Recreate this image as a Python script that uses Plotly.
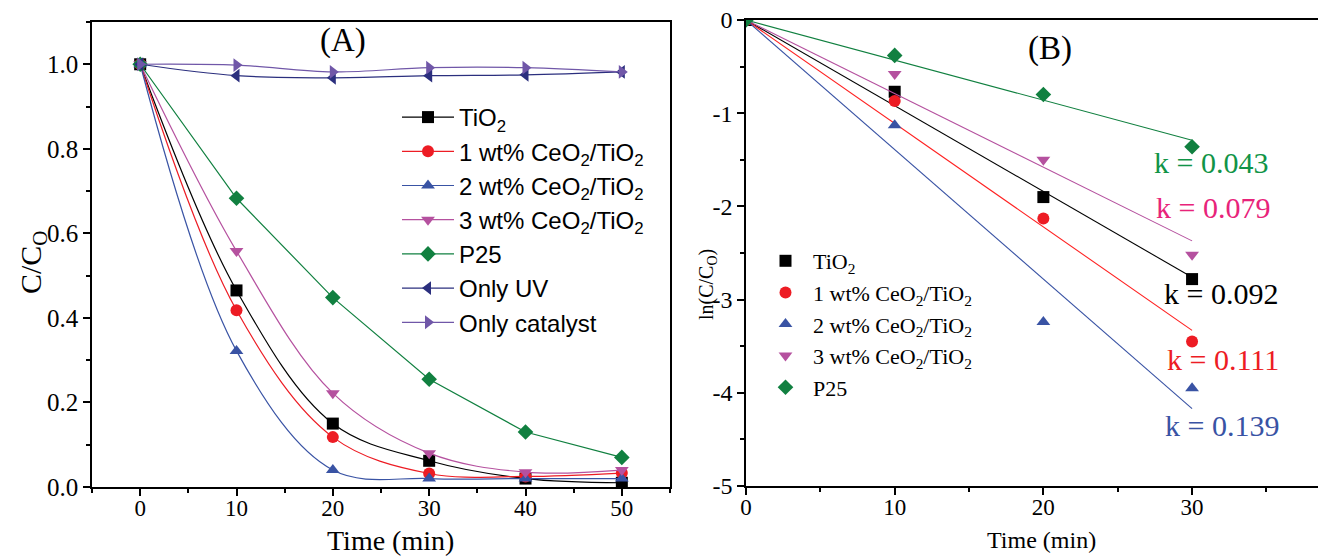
import plotly.graph_objects as go

# ---------------- data ----------------
time_a = [0, 10, 20, 30, 40, 50]
names_a = ["TiO<sub>2</sub>", "1 wt% CeO<sub>2</sub>/TiO<sub>2</sub>", "2 wt% CeO<sub>2</sub>/TiO<sub>2</sub>",
           "3 wt% CeO<sub>2</sub>/TiO<sub>2</sub>", "P25", "Only UV", "Only catalyst"]
tio2_a = [1.0, 0.465, 0.150, 0.062, 0.020, 0.010]
ce1_a = [1.0, 0.418, 0.118, 0.032, 0.025, 0.033]
ce2_a = [1.0, 0.322, 0.040, 0.020, 0.020, 0.020]
ce3_a = [1.0, 0.558, 0.222, 0.080, 0.035, 0.040]
p25_a = [1.0, 0.683, 0.448, 0.255, 0.130, 0.070]
uv_a = [1.0, 0.973, 0.968, 0.973, 0.975, 0.982]
cat_a = [1.0, 0.998, 0.982, 0.992, 0.992, 0.982]

time_b = [0, 10, 20, 30]
tio2_b = [0, -0.77, -1.90, -2.78]
ce1_b = [0, -0.87, -2.13, -3.45]
ce2_b = [0, -1.13, -3.24, -3.95]
ce3_b = [0, -0.58, -1.50, -2.52]
p25_b = [0, -0.38, -0.80, -1.36]
k_vals = [0.092, 0.111, 0.139, 0.079, 0.043]
k_labels = ["k = 0.092", "k = 0.111", "k = 0.139", "k = 0.079", "k = 0.043"]
k_label_x = [31.95, 32.08, 32.0, 31.4, 31.27]
k_label_y = [-2.93, -3.648, -4.346, -2.017, -1.534]
k_label_colors = ["#000000", "#ed1c24", "#3953a4", "#e8237a", "#119447"]

x_ticks_a = [0, 10, 20, 30, 40, 50]
y_ticks_a = [0.0, 0.2, 0.4, 0.6, 0.8, 1.0]
y_ticklabels_a = ["0.0", "0.2", "0.4", "0.6", "0.8", "1.0"]
x_ticks_b = [0, 10, 20, 30]
y_ticks_b = [0, -1, -2, -3, -4, -5]
y_ticklabels_b = ["0", "-1", "-2", "-3", "-4", "-5"]

colors = ["#000000", "#ed1c24", "#3953a4", "#b5519f", "#118040", "#2b2f7e", "#7057a8"]
symbols = ["square", "circle", "triangle-up", "triangle-down", "diamond", "triangle-left", "triangle-right"]

SERIF = "Liberation Serif, Times New Roman, serif"
SANS = "Liberation Sans, Arial, sans-serif"

fig = go.Figure()

series_a = [tio2_a, ce1_a, ce2_a, ce3_a, p25_a, uv_a, cat_a]
for i, ys in enumerate(series_a):
    shape = "linear" if i == 4 else "spline"
    fig.add_trace(go.Scatter(
        x=time_a, y=ys, name=names_a[i], mode="lines+markers",
        line=dict(color=colors[i], width=1.2, shape=shape, smoothing=1.0),
        marker=dict(symbol=symbols[i], size=12, color=colors[i]),
        xaxis="x", yaxis="y", legend="legend"))

series_b = [tio2_b, ce1_b, ce2_b, ce3_b, p25_b]
for i, ys in enumerate(series_b):
    fig.add_trace(go.Scatter(
        x=time_b, y=ys, name=names_a[i], mode="markers",
        marker=dict(symbol=symbols[i], size=12, color=colors[i]),
        xaxis="x2", yaxis="y2", legend="legend2"))
    fit_x = [time_b[0], time_b[-1]]
    fit_y = [-k_vals[i] * t for t in fit_x]
    line_col = colors[i] if i != 1 else "#ff2020"
    fig.add_trace(go.Scatter(
        x=fit_x, y=fit_y, mode="lines", showlegend=False,
        line=dict(color=line_col, width=1.1),
        xaxis="x2", yaxis="y2", hoverinfo="skip"))

for i, lab in enumerate(k_labels):
    fig.add_annotation(x=k_label_x[i], y=k_label_y[i], xref="x2", yref="y2",
                       text=lab, showarrow=False, xanchor="center", yanchor="middle",
                       font=dict(family=SERIF, size=30, color=k_label_colors[i]))


def paper_text(px, py, text, size, angle=0):
    fig.add_annotation(x=px / 1318, y=1 - py / 556, xref="paper", yref="paper", text=text,
                       showarrow=False, xanchor="center", yanchor="middle", textangle=angle,
                       borderpad=0,
                       font=dict(family=SERIF, size=size, color="black"))


paper_text(343, 41, "(A)", 33)
paper_text(1050, 48, "(B)", 33)
paper_text(390, 540, "Time (min)", 28)
paper_text(1041, 540, "Time (min)", 24)
paper_text(33, 262, "C/C<sub>O</sub>", 30, -90)
paper_text(707, 285, "ln(C/C<sub>O</sub>)", 20, -90)

common_axis = dict(showgrid=False, zeroline=False, showline=True, linecolor="black",
                   linewidth=1.5, ticks="outside", tickcolor="black", tickwidth=1.5, ticklen=7,
                   automargin=False)

fig.update_layout(
    width=1318, height=556,
    margin=dict(l=0, r=0, t=0, b=0, autoexpand=False),
    paper_bgcolor="white", plot_bgcolor="white",
    xaxis=dict(domain=[92 / 1318, 670 / 1318], range=[-5, 55], tickvals=x_ticks_a,
               mirror=True, anchor="y", ticklabelstandoff=-7,
               tickfont=dict(family=SERIF, size=23, color="black"),
               minor=dict(ticks="outside", ticklen=4, tickcolor="black", dtick=5, tick0=0),
               **common_axis),
    yaxis=dict(domain=[1 - 487 / 556, 1 - 22 / 556], range=[0, 1.1], tickvals=y_ticks_a,
               ticktext=y_ticklabels_a, mirror=True, anchor="x",
               tickfont=dict(family=SERIF, size=25, color="black"),
               minor=dict(ticks="outside", ticklen=4, tickcolor="black", dtick=0.1, tick0=0),
               **common_axis),
    xaxis2=dict(domain=[746 / 1318, 1.0], range=[0, 38.47], tickvals=x_ticks_b,
                mirror=True, anchor="y2", ticklabelstandoff=-7,
                tickfont=dict(family=SERIF, size=23, color="black"),
                minor=dict(ticks="outside", ticklen=4, tickcolor="black", dtick=5, tick0=0),
                **common_axis),
    yaxis2=dict(domain=[1 - 486 / 556, 1 - 20 / 556], range=[-5, 0], tickvals=y_ticks_b,
                ticktext=y_ticklabels_b, anchor="x2",
                tickfont=dict(family=SERIF, size=24, color="black"),
                minor=dict(ticks="outside", ticklen=4, tickcolor="black", dtick=0.5, tick0=0),
                **common_axis),
    legend=dict(x=397 / 1318, y=1 - 95 / 556, xanchor="left", yanchor="top",
                bgcolor="rgba(0,0,0,0)", font=dict(family=SANS, size=24, color="black"),
                itemwidth=52, tracegroupgap=0),
    legend2=dict(x=758 / 1318, y=1 - 240 / 556, xanchor="left", yanchor="top",
                 bgcolor="rgba(0,0,0,0)", font=dict(family=SERIF, size=22, color="black"),
                 itemwidth=45),
)

fig.write_html("out.html")
